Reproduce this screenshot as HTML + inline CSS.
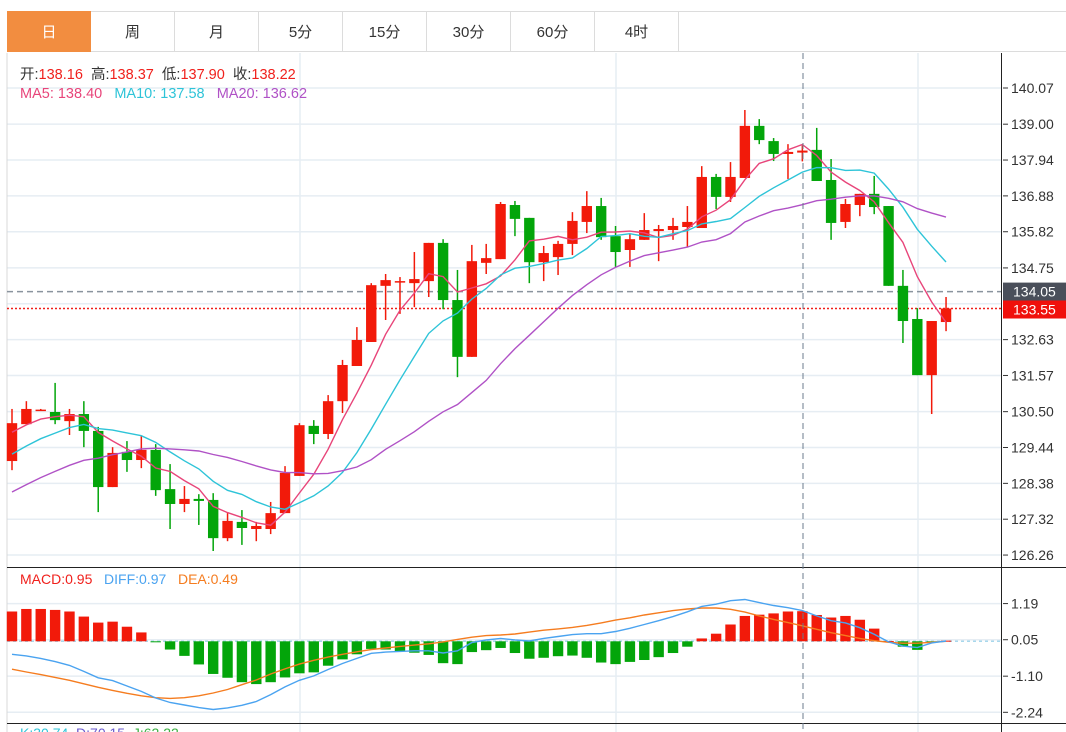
<!DOCTYPE html>
<html><head><meta charset="utf-8">
<style>
body{margin:0;background:#fff;font-family:"Liberation Sans","Noto Sans CJK SC",sans-serif;}
#wrap{position:relative;width:1066px;height:732px;overflow:hidden;background:#fff;}
.tab{position:absolute;top:11px;height:41px;line-height:41px;text-align:center;font-size:15px;color:#333;border:1px solid #dcdcdc;border-left:none;box-sizing:border-box;background:#fff;}
.tab.on{background:#f28d40;color:#fff;border-color:#f28d40;}
.lg{position:absolute;font-size:14.5px;white-space:nowrap;}
</style></head><body>
<div id="wrap">
<div style="position:absolute;left:7px;top:11px;width:1059px;height:1px;background:#dcdcdc"></div>
<div class="tab on" style="left:7px;width:84px;border-left:1px solid #f28d40">日</div>
<div class="tab" style="left:91px;width:84px">周</div>
<div class="tab" style="left:175px;width:84px">月</div>
<div class="tab" style="left:259px;width:84px">5分</div>
<div class="tab" style="left:343px;width:84px">15分</div>
<div class="tab" style="left:427px;width:84px">30分</div>
<div class="tab" style="left:511px;width:84px">60分</div>
<div class="tab" style="left:595px;width:84px">4时</div>
<div class="tab" style="left:679px;width:387px;border-right:none"></div>

<svg id="svg" width="1066" height="732" style="position:absolute;left:0;top:0"></svg>

<div class="lg" style="left:20px;top:63px"><span style="color:#333">开:</span><span style="color:#f0201c">138.16</span>&nbsp;&nbsp;<span style="color:#333">高:</span><span style="color:#f0201c">138.37</span>&nbsp;&nbsp;<span style="color:#333">低:</span><span style="color:#f0201c">137.90</span>&nbsp;&nbsp;<span style="color:#333">收:</span><span style="color:#f0201c">138.22</span></div>
<div class="lg" style="left:20px;top:86px"><span style="color:#e8457a">MA5: 138.40</span>&nbsp;&nbsp;&nbsp;<span style="color:#2ec4d8">MA10: 137.58</span>&nbsp;&nbsp;&nbsp;<span style="color:#b052c6">MA20: 136.62</span></div>
<div class="lg" style="left:20px;top:571px;font-size:14px"><span style="color:#f0201c">MACD:0.95</span>&nbsp;&nbsp;&nbsp;<span style="color:#4aa3f0">DIFF:0.97</span>&nbsp;&nbsp;&nbsp;<span style="color:#f57c1f">DEA:0.49</span></div>
<div class="lg" style="left:20px;top:725px;font-size:14px;color:#2ec4d8">K:30.74&nbsp;&nbsp;<span style="color:#6a5acd">D:70.15</span>&nbsp;&nbsp;<span style="color:#3cb043">J:62.22</span></div>
</div>
<script>
const opens=[129.04,130.13,130.53,130.49,130.22,130.43,129.93,128.27,129.31,129.07,129.37,128.21,127.77,127.92,127.89,126.76,127.24,127.03,127.03,127.50,128.60,130.08,129.84,130.81,131.85,132.56,134.22,134.35,134.30,134.36,135.49,133.80,132.12,134.90,135.01,136.61,136.23,134.92,135.07,135.46,136.11,136.58,135.69,135.28,135.58,135.84,135.87,135.96,135.93,137.44,136.85,137.41,138.95,138.50,138.12,138.16,138.24,137.35,136.11,136.61,136.94,136.58,134.22,133.24,131.58,133.15];
const highs=[130.58,130.81,130.58,131.35,130.58,130.81,130.05,129.45,129.63,129.78,129.54,128.95,128.30,128.06,128.09,127.50,127.59,127.24,127.83,128.89,130.16,130.25,130.99,132.03,133.00,134.30,134.57,134.48,135.22,135.49,135.60,134.69,135.43,135.46,136.70,136.73,136.23,135.40,135.55,136.40,137.02,136.82,135.99,135.75,136.37,136.02,136.23,136.58,137.76,137.53,137.88,139.42,139.15,138.59,138.41,138.37,138.89,137.97,136.79,136.94,137.47,136.58,134.69,133.56,133.18,133.89];
const lows=[128.77,130.13,130.52,130.13,129.81,129.45,127.53,128.27,128.72,128.83,128.01,127.03,127.53,127.15,126.38,126.67,126.56,126.67,126.88,127.50,128.60,129.54,129.69,130.46,131.85,132.56,133.21,133.39,133.59,133.89,133.53,131.52,132.12,134.57,135.01,135.69,134.30,134.36,134.54,135.13,135.78,135.58,134.78,134.78,135.58,134.95,135.58,135.37,135.93,136.49,136.70,137.41,138.41,137.91,137.38,137.90,137.32,135.58,135.93,136.28,136.34,134.22,132.53,131.58,130.43,132.88];
const closes=[130.16,130.58,130.56,130.25,130.43,129.93,128.27,129.28,129.07,129.37,128.18,127.77,127.92,127.86,126.76,127.27,127.06,127.12,127.50,128.69,130.10,129.84,130.81,131.88,132.62,134.24,134.39,134.36,134.42,135.49,133.80,132.12,134.95,135.04,136.64,136.20,134.92,135.19,135.46,136.14,136.58,135.66,135.22,135.60,135.87,135.90,135.99,136.11,137.44,136.85,137.44,138.95,138.53,138.12,138.18,138.22,137.32,136.08,136.64,136.94,136.55,134.22,133.18,131.58,133.18,133.55];
const priorCloses=[126.2,126.4,126.6,126.8,127.0,127.0,127.2,127.4,127.6,127.8,128.2,128.4,128.6,128.8,129.0,129.5,129.7,129.9,130.2];
const priceTicks=[140.07,139.00,137.94,136.88,135.82,134.75,133.69,132.63,131.57,130.50,129.44,128.38,127.32,126.26];
const macdHist=[0.94,1.02,1.02,0.99,0.94,0.78,0.59,0.62,0.46,0.28,-0.02,-0.26,-0.46,-0.73,-1.03,-1.15,-1.29,-1.35,-1.29,-1.14,-1.01,-0.98,-0.77,-0.57,-0.41,-0.24,-0.26,-0.32,-0.36,-0.43,-0.69,-0.72,-0.34,-0.28,-0.21,-0.37,-0.55,-0.52,-0.47,-0.45,-0.52,-0.67,-0.72,-0.65,-0.59,-0.50,-0.37,-0.17,0.09,0.24,0.53,0.80,0.84,0.88,0.94,0.95,0.83,0.75,0.80,0.68,0.40,0.01,-0.17,-0.27,-0.03,0.02];
const deaVals=[-0.88,-0.97,-1.05,-1.14,-1.23,-1.34,-1.45,-1.55,-1.64,-1.72,-1.78,-1.80,-1.78,-1.72,-1.63,-1.52,-1.37,-1.22,-1.03,-0.87,-0.72,-0.60,-0.50,-0.41,-0.33,-0.26,-0.21,-0.16,-0.12,-0.08,-0.02,0.06,0.13,0.18,0.20,0.23,0.29,0.35,0.39,0.44,0.50,0.58,0.67,0.74,0.83,0.90,0.97,1.02,1.05,1.05,1.01,0.92,0.80,0.69,0.59,0.49,0.38,0.27,0.18,0.09,0.02,-0.03,-0.06,-0.06,-0.03,0.00];
const diffVals=[-0.41,-0.46,-0.54,-0.64,-0.76,-0.95,-1.15,-1.24,-1.41,-1.58,-1.79,-1.93,-2.01,-2.09,-2.15,-2.10,-2.02,-1.90,-1.68,-1.44,-1.23,-1.09,-0.89,-0.70,-0.54,-0.38,-0.34,-0.32,-0.30,-0.30,-0.37,-0.30,-0.04,0.04,0.09,0.04,0.01,0.09,0.15,0.21,0.24,0.24,0.31,0.41,0.53,0.65,0.78,0.93,1.10,1.17,1.28,1.32,1.22,1.13,1.06,0.97,0.80,0.65,0.58,0.43,0.22,-0.02,-0.15,-0.20,-0.05,0.01];
const macdTicks=[1.19,0.05,-1.10,-2.24];
const lastPrice=133.55, refPrice=134.05;

const NS='http://www.w3.org/2000/svg';
const svg=document.getElementById('svg');
function mk(tag,attrs,parent){const e=document.createElementNS(NS,tag);for(const k in attrs)e.setAttribute(k,attrs[k]);(parent||svg).appendChild(e);return e;}
const X0=12, DX=14.37;
const xOf=i=>X0+i*DX;
const yP=p=>88+(140.07-p)*33.82;
const Z=641.3, yM=v=>Z-v*31.7;
const GRID='#e6edf3';

// gridlines
let g=mk('g',{});


priceTicks.forEach(t=>{mk('line',{x1:7,x2:1001,y1:yP(t),y2:yP(t),stroke:GRID,'stroke-width':1.5},g);});
macdTicks.forEach(t=>{mk('line',{x1:7,x2:1001,y1:yM(t),y2:yM(t),stroke:GRID,'stroke-width':1.5},g);});
[300,616,918].forEach(x=>{mk('line',{x1:x,x2:x,y1:53,y2:732,stroke:GRID,'stroke-width':1.5},g);});
// frame
let fr=mk('g',{});


mk('line',{x1:7,x2:7,y1:53,y2:732,stroke:'#d8d8d8'},fr);
mk('line',{x1:1001.5,x2:1001.5,y1:53,y2:732,stroke:'#222'},fr);
mk('line',{x1:7,x2:1066,y1:567.5,y2:567.5,stroke:'#222'},fr);
mk('line',{x1:7,x2:1066,y1:723.5,y2:723.5,stroke:'#222'},fr);

// price axis labels
let ax=mk('g',{});


priceTicks.forEach(t=>{
  if(Math.abs(t-133.69)<0.01) return;
  mk('line',{x1:1003,x2:1008,y1:yP(t),y2:yP(t),stroke:'#333'},ax);
  const tx=mk('text',{x:1011,y:yP(t)+5,'font-size':14,fill:'#333'},ax);tx.textContent=t.toFixed(2);
});
let ax2=mk('g',{});


macdTicks.forEach(t=>{
  mk('line',{x1:1003,x2:1008,y1:yM(t),y2:yM(t),stroke:'#333'},ax2);
  const tx=mk('text',{x:1011,y:yM(t)+5,'font-size':14,fill:'#333'},ax2);tx.textContent=t.toFixed(2);
});

// reference lines
const rl=mk('line',{x1:7,x2:1001,y1:yP(refPrice),y2:yP(refPrice),stroke:'#8a949e','stroke-width':1.5,'stroke-dasharray':'6,4'});


const ll=mk('line',{x1:7,x2:1001,y1:yP(lastPrice),y2:yP(lastPrice),stroke:'#f0201c','stroke-width':1.5,'stroke-dasharray':'2,2'});



// candles
closes.forEach((c,i)=>{
  const o=opens[i],x=xOf(i),up=c>=o,col=up?'#f21a0a':'#03a50a';
  const cg=mk('g',{});
  
  
  mk('line',{x1:x,x2:x,y1:yP(highs[i]),y2:yP(lows[i]),stroke:col,'stroke-width':1.5},cg);
  const top=yP(Math.max(o,c)),bot=yP(Math.min(o,c));
  mk('rect',{x:x-5.2,y:top,width:10.4,height:Math.max(1.5,bot-top),fill:col},cg);
});

// moving averages
const all=priorCloses.concat(closes);
function ma(n){return closes.map((_,i)=>{const k=i+priorCloses.length;let s=0,m=0;for(let j=k;j>k-n&&j>=0;j--){s+=all[j];m++;}return s/m;});}
[[5,'#e8457a','ma5-line'],[10,'#2ec4d8','ma10-line'],[20,'#b052c6','ma20-line']].forEach(([n,col,nm])=>{
  const v=ma(n);
  const d=v.map((p,i)=>(i?'L':'M')+xOf(i).toFixed(1)+','+yP(p).toFixed(1)).join('');
  const pl=mk('path',{d:d,fill:'none',stroke:col,'stroke-width':1.4});
  
  
});

// macd zero line
const zl=mk('line',{x1:7,x2:1001,y1:Z,y2:Z,stroke:'#a8d8ec','stroke-width':1.5,'stroke-dasharray':'3,3'});


macdHist.forEach((v,i)=>{
  const x=xOf(i),y0=Z,y1=yM(v);
  const r=mk('rect',{x:x-5.2,y:Math.min(y0,y1),width:10.4,height:Math.max(1,Math.abs(y1-y0)),fill:v>=0?'#f21a0a':'#03a50a'});
  
  
});
[[deaVals,'#f57c1f','dea-line'],[diffVals,'#4aa3f0','diff-line']].forEach(([arr,col,nm])=>{
  const d=arr.map((v,i)=>(i?'L':'M')+xOf(i).toFixed(1)+','+yM(v).toFixed(1)).join('');
  const pl=mk('path',{d:d,fill:'none',stroke:col,'stroke-width':1.4});
  
  
});

// crosshair
const ch=mk('line',{x1:803,x2:803,y1:53,y2:732,stroke:'#6b7b8c','stroke-width':1,'stroke-dasharray':'6,4'});



// price tags
const t1=mk('g',{});


mk('rect',{x:1003,y:yP(refPrice)-9,width:63,height:18,fill:'#4a4f5a'},t1);
let tt=mk('text',{x:1013,y:yP(refPrice)+5,'font-size':14,fill:'#fff'},t1);tt.textContent=refPrice.toFixed(2);
const t2=mk('g',{});


mk('rect',{x:1003,y:yP(lastPrice)-8,width:63,height:18,fill:'#f0100c'},t2);
tt=mk('text',{x:1013,y:yP(lastPrice)+6,'font-size':14,fill:'#fff'},t2);tt.textContent=lastPrice.toFixed(2);
</script>
</body></html>
